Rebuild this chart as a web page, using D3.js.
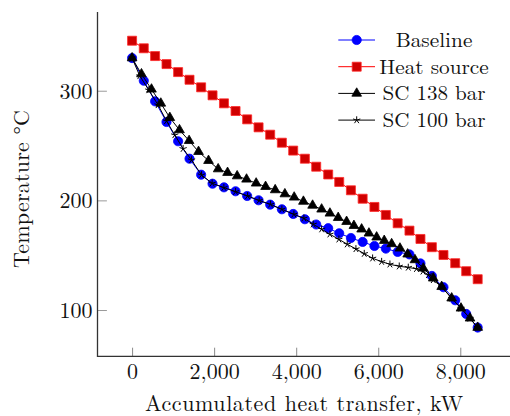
<!DOCTYPE html>
<html>
<head>
<meta charset="utf-8">
<script src="https://cdn.jsdelivr.net/npm/d3@7"></script>
<style>
  html, body { margin: 0; padding: 0; background: #fff; }
  svg { display: block; }
</style>
</head>
<body>
<svg id="chart" width="510" height="416"></svg>
<script>
// ---- data ----
const xTicks = [0, 2000, 4000, 6000, 8000];
const yTicks = [100, 200, 300];
const xLabel = "Accumulated heat transfer, kW";
const yLabel = "Temperature °C";
const seriesNames = ["Baseline", "Heat source", "SC 138 bar", "SC 100 bar"];

const baseX = [0, 285, 561, 839, 1122, 1400, 1683, 1961, 2240, 2522, 2805, 3083, 3366, 3651, 3927, 4212, 4488, 4780, 5049, 5334, 5620, 5907, 6185, 6473, 6761, 7029, 7307, 7590, 7876, 8144, 8424];
const baseY = [329.8, 309.1, 290.3, 271.5, 253.9, 238.0, 223.4, 215.2, 211.9, 208.3, 204.0, 200.1, 196.1, 191.9, 187.6, 182.8, 178.0, 174.6, 170.0, 165.7, 162.1, 158.4, 156.0, 153.0, 150.7, 142.5, 131.1, 120.8, 108.9, 96.4, 84.0];

const heatX = [0, 285, 561, 839, 1122, 1400, 1683, 1961, 2240, 2522, 2805, 3083, 3366, 3651, 3927, 4212, 4488, 4780, 5049, 5334, 5620, 5907, 6185, 6473, 6761, 7029, 7307, 7590, 7876, 8144, 8424];
const heatY = [345.6, 338.7, 331.6, 324.3, 317.0, 310.0, 303.1, 295.8, 288.5, 281.5, 273.9, 266.6, 259.9, 252.6, 245.4, 238.0, 230.7, 223.6, 216.8, 209.2, 201.5, 194.0, 186.7, 179.1, 172.4, 164.8, 157.3, 150.2, 142.7, 135.4, 128.1];

const sc138X = [0, 229, 473, 700, 920, 1156, 1390, 1620, 1863, 2098, 2327, 2561, 2790, 3024, 3254, 3488, 3724, 3951, 4176, 4400, 4620, 4822, 5024, 5229, 5407, 5595, 5773, 5961, 6146, 6327, 6529, 6717, 6895, 7098, 7341, 7546, 7790, 8017, 8237, 8424];
const sc138Y = [329.8, 315.2, 301.3, 288.5, 275.4, 264.2, 254.4, 244.4, 236.2, 228.6, 225.3, 222.2, 219.2, 215.6, 212.5, 209.5, 205.8, 202.8, 199.0, 195.4, 191.9, 188.2, 184.2, 180.6, 176.9, 173.7, 170.0, 166.4, 163.3, 160.3, 156.3, 150.9, 145.7, 138.1, 129.0, 121.3, 110.8, 101.6, 92.5, 84.0];

const sc100X = [0, 188, 407, 634, 839, 1041, 1244, 1449, 1693, 1951, 2237, 2522, 2815, 3098, 3376, 3651, 3944, 4188, 4415, 4620, 4822, 5041, 5244, 5456, 5659, 5863, 6083, 6285, 6512, 6732, 6932, 7090, 7224, 7341, 7546, 7790, 8017, 8237, 8424];
const sc100Y = [329.8, 313.4, 300.6, 287.0, 272.4, 259.6, 247.1, 236.8, 223.1, 215.6, 211.6, 207.9, 204.0, 199.9, 196.3, 191.9, 187.3, 183.7, 178.2, 173.7, 169.1, 164.5, 160.0, 155.7, 151.4, 147.2, 144.1, 141.7, 139.9, 138.8, 137.6, 135.2, 132.0, 127.4, 121.0, 110.6, 101.5, 92.3, 84.0];

// ---- layout ----
const FONT = "'Latin Modern Roman', 'CMU Serif', 'Liberation Serif'";
const svg = d3.select("#chart");
const plot = { left: 97.5, right: 512.6, top: 12, bottom: 356.4 };

const x = d3.scaleLinear().domain([-843, 9275]).range([plot.left, plot.right]);
const y = d3.scaleLinear().domain([57.7, 371.8]).range([plot.bottom, plot.top]);

const zip = (xs, ys) => xs.map((v, i) => [v, ys[i]]);
const series = [
  { name: seriesNames[0], data: zip(baseX, baseY), line: "#0000ff", mark: "circle", fill: "#0000ff", stroke: "#0000ff", w: 76.7 },
  { name: seriesNames[1], data: zip(heatX, heatY), line: "#ff0000", mark: "square", fill: "#d00000", stroke: "#ff2a2a", w: 109.5 },
  { name: seriesNames[2], data: zip(sc138X, sc138Y), line: "#000000", mark: "triangle", fill: "#000000", stroke: "#000000", w: 103 },
  { name: seriesNames[3], data: zip(sc100X, sc100Y), line: "#000000", mark: "star", fill: "none", stroke: "#000000", w: 103 }
];

function markPath(type) {
  if (type === "circle") return d3.symbol().type(d3.symbolCircle).size(Math.PI * 4.6 * 4.6)();
  if (type === "square") return "M-4.5,-4.5H4.5V4.5H-4.5Z";
  if (type === "triangle") { const r = 5.6; return `M0,${-r}L${r * 0.866},${r * 0.5}L${-r * 0.866},${r * 0.5}Z`; }
  if (type === "star") {
    const r = 3.8; let p = "";
    for (let k = 0; k < 5; k++) { const a = (90 + 72 * k) * Math.PI / 180; p += `M0,0L${(r * Math.cos(a)).toFixed(2)},${(-r * Math.sin(a)).toFixed(2)}`; }
    return p;
  }
}

// ---- axes ----
const xAxis = d3.axisBottom(x).tickValues(xTicks).tickSizeInner(-8.7).tickSizeOuter(0).tickPadding(0)
  .tickFormat(d3.format(","));
const gx = svg.append("g").attr("transform", `translate(0,${plot.bottom})`).call(xAxis)
  .attr("font-family", FONT).attr("font-size", 22);
gx.select(".domain").remove();
gx.selectAll(".tick line").attr("stroke", "#8a8a8a").attr("stroke-width", 1);
gx.selectAll(".tick text").attr("y", 23).attr("dy", null).attr("fill", "#111");

const yAxis = d3.axisLeft(y).tickValues(yTicks).tickSizeInner(-9.4).tickSizeOuter(0).tickPadding(0);
const gy = svg.append("g").attr("transform", `translate(${plot.left},0)`).call(yAxis)
  .attr("font-family", FONT).attr("font-size", 22);
gy.select(".domain").remove();
gy.selectAll(".tick line").attr("stroke", "#9a9a9a").attr("stroke-width", 1);
gy.selectAll(".tick text").attr("x", -5).attr("dy", "0.34em").attr("fill", "#111");

// axis lines
svg.append("line").attr("x1", plot.left).attr("x2", plot.left).attr("y1", plot.top).attr("y2", plot.bottom)
  .attr("stroke", "#333").attr("stroke-width", 1.3);
svg.append("line").attr("x1", plot.left - 0.6).attr("x2", 510).attr("y1", plot.bottom).attr("y2", plot.bottom)
  .attr("stroke", "#333").attr("stroke-width", 1.3);

// ---- series ----
const lineGen = d3.line().x(d => x(d[0])).y(d => y(d[1]));
series.forEach(s => {
  const g = svg.append("g");
  g.append("path").attr("d", lineGen(s.data)).attr("fill", "none").attr("stroke", s.line).attr("stroke-width", 1);
  g.selectAll("path.m").data(s.data).join("path").attr("class", "m")
    .attr("transform", d => `translate(${x(d[0])},${y(d[1])})`)
    .attr("d", markPath(s.mark))
    .attr("fill", s.fill).attr("stroke", s.stroke).attr("stroke-width", s.mark === "star" ? 1 : 0.8);
});

// ---- legend ----
const leg = svg.append("g");
series.forEach((s, i) => {
  const cy = 40 + i * 26.7;
  leg.append("line").attr("x1", 338.3).attr("x2", 375).attr("y1", cy).attr("y2", cy)
    .attr("stroke", s.line).attr("stroke-width", 1);
  leg.append("path").attr("transform", `translate(356.7,${cy})`).attr("d", markPath(s.mark))
    .attr("fill", s.fill).attr("stroke", s.stroke).attr("stroke-width", s.mark === "star" ? 1 : 0.8);
  leg.append("text").attr("x", 434).attr("y", cy).attr("dy", "0.34em").attr("text-anchor", "middle")
    .attr("textLength", s.w).attr("lengthAdjust", "spacingAndGlyphs")
    .attr("font-family", FONT).attr("font-size", 20.5).attr("fill", "#111").text(s.name);
});

// ---- axis titles ----
svg.append("text").attr("x", 304).attr("y", 411).attr("text-anchor", "middle")
  .attr("textLength", 318).attr("lengthAdjust", "spacing")
  .attr("font-family", FONT).attr("font-size", 22).attr("fill", "#111").text(xLabel);
svg.append("text").attr("transform", "translate(29,189) rotate(-90)").attr("text-anchor", "middle")
  .attr("textLength", 158).attr("lengthAdjust", "spacing")
  .attr("font-family", FONT).attr("font-size", 22).attr("fill", "#111").text(yLabel);
</script>
</body>
</html>
